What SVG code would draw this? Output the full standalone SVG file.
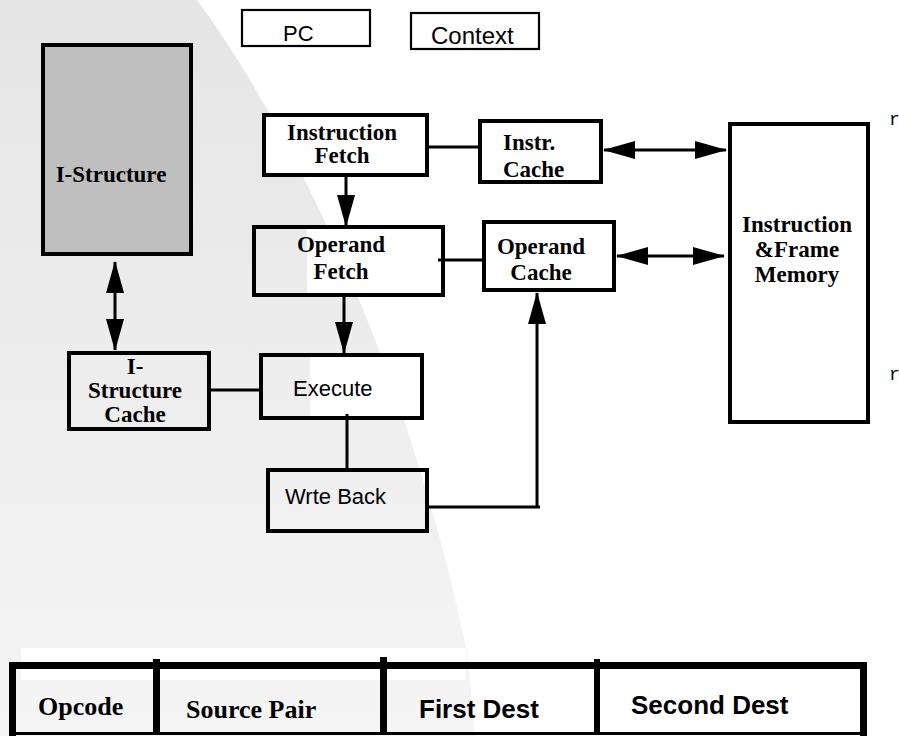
<svg xmlns="http://www.w3.org/2000/svg" width="899" height="736" viewBox="0 0 899 736">
  <defs>
    <linearGradient id="shade" x1="0" y1="0" x2="0" y2="1">
      <stop offset="0" stop-color="#e5e5e5"/>
      <stop offset="1" stop-color="#f5f5f5"/>
    </linearGradient>
    <marker id="ah" viewBox="0 0 32 18" refX="31" refY="9" markerWidth="32" markerHeight="18" markerUnits="userSpaceOnUse" orient="auto-start-reverse">
      <path d="M0,0 L32,9 L0,18 z" fill="#000"/>
    </marker>
    <style>
      .box { fill: none; stroke: #000; stroke-width: 4; }
      .wbox { fill: #fff; stroke: #000; stroke-width: 4; }
      .thin { fill: #fff; stroke: #000; stroke-width: 2.2; }
      .lbl { font-family: "Liberation Serif", "Times New Roman", serif; font-weight: bold; font-size: 23px; fill: #000; }
      .sans { font-family: "Liberation Sans", Arial, sans-serif; font-size: 22px; fill: #000; }
      .cellS { font-family: "Liberation Serif", "Times New Roman", serif; font-weight: bold; font-size: 26px; fill: #000; }
      .cellA { font-family: "Liberation Sans", Arial, sans-serif; font-weight: bold; font-size: 26px; fill: #000; }
      .mono { font-family: "Liberation Mono", "Courier New", monospace; font-size: 18px; fill: #000; }
      .wire { fill: none; stroke: #000; stroke-width: 3; }
      .c { text-anchor: middle; }
    </style>
  </defs>

  <!-- shaded backdrop -->
  <rect x="0" y="0" width="899" height="736" fill="#fff"/>
  <path d="M0,0 L197,0 C300,140 410,380 466,648 L470,680 L475,736 L0,736 Z" fill="url(#shade)"/>
  <rect x="21" y="648" width="445" height="32" fill="#fff"/>

  <!-- register boxes -->
  <g id="pc">
    <rect class="thin" x="242" y="10" width="128" height="36"/>
    <text class="sans" x="283" y="41">PC</text>
  </g>
  <g id="context">
    <rect class="thin" x="411" y="13" width="128" height="36"/>
    <text class="sans" x="431" y="44" style="font-size:24px">Context</text>
  </g>

  <g id="i-structure">
    <rect class="box" x="43" y="45" width="148" height="209" style="fill:#bfbfbf"/>
    <text class="lbl c" x="111" y="182">I-Structure</text>
  </g>

  <g id="instruction-fetch">
    <rect class="wbox" x="264" y="115" width="163" height="60"/>
    <text class="lbl c" x="342" y="140">Instruction</text>
    <text class="lbl c" x="342" y="163">Fetch</text>
  </g>

  <g id="instr-cache">
    <rect class="wbox" x="480" y="121" width="121" height="61"/>
    <text class="lbl" x="503" y="150">Instr.</text>
    <text class="lbl" x="503" y="177">Cache</text>
  </g>

  <g id="memory">
    <rect class="wbox" x="730" y="124" width="138" height="298"/>
    <text class="lbl c" x="797" y="232">Instruction</text>
    <text class="lbl c" x="797" y="257">&amp;Frame</text>
    <text class="lbl c" x="797" y="282">Memory</text>
  </g>

  <g id="operand-fetch">
    <rect x="307" y="229" width="136" height="66" fill="#fff"/>
    <rect class="box" x="254" y="227" width="189" height="68"/>
    <text class="lbl c" x="341" y="252">Operand</text>
    <text class="lbl c" x="341" y="279">Fetch</text>
  </g>

  <g id="operand-cache">
    <rect class="wbox" x="484" y="222" width="130" height="68"/>
    <text class="lbl c" x="541" y="254">Operand</text>
    <text class="lbl c" x="541" y="280">Cache</text>
  </g>

  <g id="execute">
    <rect x="310" y="357" width="112" height="61" fill="#fff"/>
    <rect class="box" x="261" y="355" width="161" height="63"/>
    <text class="sans" x="293" y="396">Execute</text>
  </g>

  <g id="i-structure-cache">
    <rect class="box" x="69" y="353" width="140" height="76"/>
    <text class="lbl c" x="135" y="374">I-</text>
    <text class="lbl c" x="135" y="398">Structure</text>
    <text class="lbl c" x="135" y="422">Cache</text>
  </g>

  <g id="write-back">
    <rect class="box" x="268" y="470" width="159" height="61"/>
    <text class="sans" x="285" y="504">Wrte Back</text>
  </g>

  <!-- connectors -->
  <g id="connectors">
    <path class="wire" d="M346,177 V226" marker-end="url(#ah)"/>
    <path class="wire" d="M344,297 V353" marker-end="url(#ah)"/>
    <path class="wire" d="M429,147 H478"/>
    <path class="wire" d="M604,150 H726" marker-start="url(#ah)" marker-end="url(#ah)"/>
    <path class="wire" d="M438,260 H482"/>
    <path class="wire" d="M617,256 H724" marker-start="url(#ah)" marker-end="url(#ah)"/>
    <path class="wire" d="M115,262 V350" marker-start="url(#ah)" marker-end="url(#ah)"/>
    <path class="wire" d="M211,390 H259"/>
    <path class="wire" d="M347,414 V468"/>
    <path class="wire" d="M429,507 H540"/>
    <path class="wire" d="M537,507 V293" marker-end="url(#ah)"/>
  </g>

  <!-- instruction format -->
  <g id="format">
    <rect x="9" y="662" width="858" height="7" fill="#000"/>
    <rect x="9" y="732" width="858" height="3" fill="#000"/>
    <rect x="9" y="662" width="7" height="74" fill="#000"/>
    <rect x="860" y="662" width="7" height="74" fill="#000"/>
    <rect x="153" y="659" width="7" height="76" fill="#000"/>
    <rect x="380" y="657" width="7" height="78" fill="#000"/>
    <rect x="594" y="659" width="6" height="76" fill="#000"/>
    <text class="cellS" x="38" y="715">Opcode</text>
    <text class="cellS" x="186" y="718">Source Pair</text>
    <text class="cellA" x="419" y="718">First Dest</text>
    <text class="cellA" x="631" y="714">Second Dest</text>
  </g>

  <text class="mono" x="889" y="125">r</text>
  <text class="mono" x="889" y="380">r</text>
</svg>
